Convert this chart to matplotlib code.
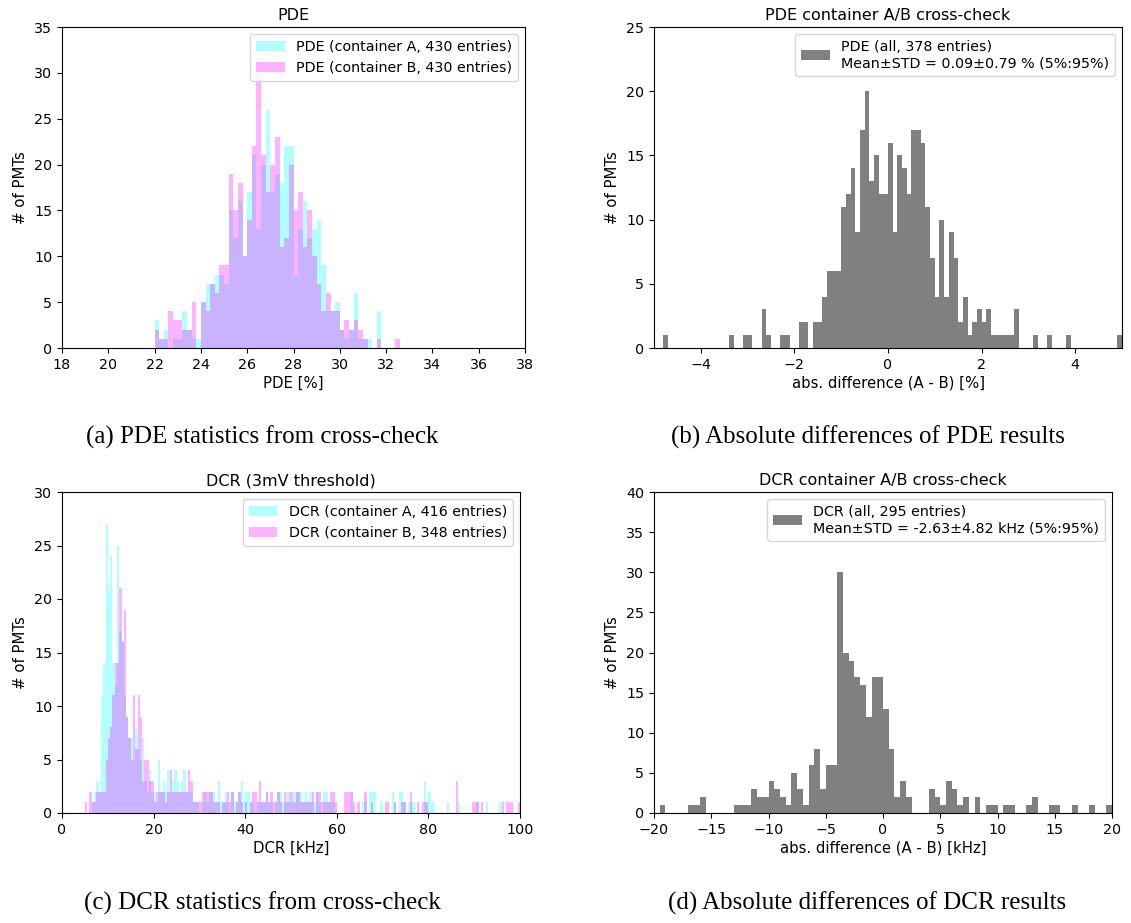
import numpy as np
import matplotlib
matplotlib.use("Agg")
import matplotlib.pyplot as plt

# ---------------- data ----------------
# (a) PDE histograms, bins of 0.2 % starting at 22 %
pde_bin_start = 22.0
pde_bin_width = 0.2
pde_a_counts = [3, 1, 2, 0, 1, 1, 4, 2, 1, 1,
                5, 7, 7, 8, 8, 7, 15, 12, 16, 10,
                17, 21, 13, 20, 26, 17, 19, 18, 22, 22,
                8, 13, 16, 12, 13, 14, 9, 4, 4, 5,
                2, 1, 2, 6, 1, 1, 1, 0, 4, 0,
                0, 0, 0]
pde_b_counts = [2, 1, 1, 4, 3, 3, 2, 2, 5, 0,
                5, 4, 7, 6, 9, 9, 19, 15, 18, 10,
                14, 22, 30, 21, 17, 20, 23, 11, 12, 20,
                15, 17, 11, 15, 10, 7, 4, 6, 4, 4,
                2, 3, 2, 3, 2, 1, 0, 0, 1, 0,
                0, 0, 1]
pde_a_label = "PDE (container A, 430 entries)"
pde_b_label = "PDE (container B, 430 entries)"

# (b) PDE A-B differences, bins of 0.1 % from -5 to 5
pdediff_bin_start = -5.0
pdediff_bin_width = 0.1
pdediff_counts = [0, 0, 1, 0, 0, 0, 0, 0, 0, 0,
                  0, 0, 0, 0, 0, 0, 1, 0, 0, 1,
                  1, 0, 0, 3, 1, 0, 0, 1, 1, 0,
                  0, 2, 2, 0, 2, 2, 4, 6, 6, 6,
                  11, 12, 14, 9, 17, 20, 13, 15, 12, 12,
                  16, 9, 15, 14, 12, 17, 17, 16, 11, 7,
                  4, 10, 4, 9, 7, 2, 4, 1, 2, 3,
                  2, 3, 1, 1, 1, 1, 1, 3, 0, 0,
                  0, 1, 0, 0, 1, 0, 0, 0, 1, 0,
                  0, 0, 0, 0, 0, 0, 0, 0, 0, 1]
pdediff_label = "PDE (all, 378 entries)\nMean\u00b1STD = 0.09\u00b10.79 % (5%:95%)"

# (c) DCR histograms, bins of 0.5 kHz from 0 to 100
dcr_bin_start = 0.0
dcr_bin_width = 0.5
dcr_a_counts = [0, 0, 0, 0, 0, 0, 0, 0, 0, 0,
                0, 0, 0, 1, 2, 3, 2, 11, 14, 27,
                21, 24, 14, 12, 25, 17, 16, 11, 9, 7,
                7, 5, 8, 6, 5, 7, 3, 2, 4, 2,
                2, 1, 5, 2, 3, 2, 4, 2, 3, 4,
                3, 2, 3, 4, 2, 2, 2, 1, 1, 1,
                0, 1, 2, 1, 2, 2, 2, 1, 3, 1,
                1, 2, 1, 0, 2, 1, 1, 2, 3, 1,
                2, 2, 1, 1, 0, 1, 1, 1, 1, 2,
                1, 1, 0, 1, 2, 2, 1, 1, 2, 1,
                1, 2, 2, 2, 2, 1, 2, 1, 2, 1,
                1, 2, 1, 0, 2, 2, 1, 1, 1, 0,
                0, 0, 0, 0, 0, 0, 2, 0, 0, 0,
                0, 1, 1, 0, 2, 2, 2, 0, 0, 1,
                0, 0, 0, 0, 2, 1, 0, 2, 2, 1,
                0, 1, 1, 1, 0, 0, 0, 0, 3, 1,
                2, 1, 1, 0, 0, 0, 0, 0, 1, 0,
                0, 0, 0, 1, 0, 0, 0, 0, 0, 0,
                0, 1, 0, 0, 0, 1, 0, 0, 0, 0,
                0, 1, 0, 0, 0, 0, 0, 0, 0, 0]
dcr_b_counts = [0, 0, 0, 0, 0, 0, 0, 0, 0, 0,
                1, 0, 2, 1, 1, 2, 2, 2, 2, 5,
                7, 8, 11, 14, 14, 21, 16, 19, 9, 7,
                5, 11, 6, 11, 9, 3, 5, 5, 3, 3,
                1, 2, 2, 2, 2, 1, 2, 4, 2, 2,
                2, 2, 2, 2, 2, 4, 3, 1, 1, 1,
                1, 2, 2, 2, 2, 2, 1, 1, 1, 0,
                1, 1, 2, 1, 2, 0, 1, 2, 1, 0,
                1, 0, 1, 2, 2, 1, 3, 1, 1, 2,
                1, 2, 1, 1, 2, 1, 0, 2, 1, 2,
                2, 1, 2, 2, 1, 1, 1, 1, 1, 2,
                0, 2, 2, 1, 1, 1, 1, 2, 2, 1,
                0, 0, 0, 2, 2, 2, 2, 1, 0, 1,
                0, 0, 2, 0, 0, 1, 0, 0, 0, 0,
                0, 1, 1, 0, 0, 1, 0, 0, 1, 1,
                0, 0, 2, 0, 0, 1, 0, 1, 1, 1,
                0, 0, 0, 0, 0, 0, 0, 0, 0, 0,
                0, 0, 3, 0, 0, 0, 0, 0, 0, 1,
                1, 1, 0, 1, 0, 0, 0, 0, 0, 0,
                0, 0, 1, 0, 1, 1, 1, 0, 0, 1]
dcr_a_label = "DCR (container A, 416 entries)"
dcr_b_label = "DCR (container B, 348 entries)"

# (d) DCR A-B differences, bins of 0.5 kHz from -20 to 20
dcrdiff_bin_start = -20.0
dcrdiff_bin_width = 0.5
dcrdiff_counts = [0, 1, 0, 0, 0, 0, 1, 1, 2, 0,
                  0, 0, 0, 0, 1, 1, 1, 3, 2, 2,
                  4, 3, 2, 1, 5, 3, 1, 6, 8, 3,
                  6, 6, 30, 20, 19, 17, 16, 12, 17, 17,
                  13, 8, 2, 4, 2, 0, 0, 0, 3, 2,
                  1, 4, 3, 1, 2, 0, 2, 0, 1, 1,
                  0, 1, 1, 0, 0, 1, 2, 0, 0, 1,
                  1, 0, 0, 1, 0, 0, 1, 0, 0, 1]
dcrdiff_label = "DCR (all, 295 entries)\nMean\u00b1STD = -2.63\u00b14.82 kHz (5%:95%)"

titles = ["PDE", "PDE container A/B cross-check",
          "DCR (3mV threshold)", "DCR container A/B cross-check"]
xlabels = ["PDE [%]", "abs. difference (A - B) [%]",
           "DCR [kHz]", "abs. difference (A - B) [kHz]"]
captions = ["(a) PDE statistics from cross-check",
            "(b) Absolute differences of PDE results",
            "(c) DCR statistics from cross-check",
            "(d) Absolute differences of DCR results"]


def edges(start, width, n):
    return start + width * np.arange(n + 1)


def hist_counts(ax, start, width, counts, **kw):
    e = edges(start, width, len(counts))
    ax.hist(e[:-1], bins=e, weights=counts, **kw)


# ---------------- figure ----------------
W, H = 1131, 923
fig = plt.figure(figsize=(W / 100, H / 100), dpi=100)


def px_axes(l, t, r, b):
    return fig.add_axes([l / W, 1 - b / H, (r - l) / W, (b - t) / H])


axa = px_axes(62, 27, 525, 348)
axb = px_axes(654, 27, 1122, 348)
axc = px_axes(62, 492, 520, 813)
axd = px_axes(654, 492, 1112, 813)

cyan = "cyan"
mag = "magenta"
al = 0.3

# (a)
hist_counts(axa, pde_bin_start, pde_bin_width, pde_a_counts, color=cyan, alpha=al, label=pde_a_label)
hist_counts(axa, pde_bin_start, pde_bin_width, pde_b_counts, color=mag, alpha=al, label=pde_b_label)
axa.set_xlim(18, 38)
axa.set_ylim(0, 35)
axa.set_xticks(np.arange(18, 39, 2))
axa.set_yticks(np.arange(0, 36, 5))

# (b)
hist_counts(axb, pdediff_bin_start, pdediff_bin_width, pdediff_counts, color="grey", label=pdediff_label)
axb.set_xlim(-5, 5)
axb.set_ylim(0, 25)
axb.set_xticks([-4, -2, 0, 2, 4])

# (c)
hist_counts(axc, dcr_bin_start, dcr_bin_width, dcr_a_counts, color=cyan, alpha=al, label=dcr_a_label)
hist_counts(axc, dcr_bin_start, dcr_bin_width, dcr_b_counts, color=mag, alpha=al, label=dcr_b_label)
axc.set_xlim(0, 100)
axc.set_ylim(0, 30)

# (d)
hist_counts(axd, dcrdiff_bin_start, dcrdiff_bin_width, dcrdiff_counts, color="grey", label=dcrdiff_label)
axd.set_xlim(-20, 20)
axd.set_ylim(0, 40)

for ax, t, xl in zip([axa, axb, axc, axd], titles, xlabels):
    ax.set_title(t, fontsize=11.5, pad=5)
    ax.set_xlabel(xl, fontsize=10.7, labelpad=3)
    ax.set_ylabel("# of PMTs", fontsize=10.7, labelpad=4)
    ax.legend(loc="upper right", fontsize=10.3)
    ax.tick_params(labelsize=10.3)

cap_font = dict(family="Liberation Serif", fontsize=18, ha="center", va="center")
fig.text(262 / W, 1 - 437 / H, captions[0], **cap_font)
fig.text(868 / W, 1 - 437 / H, captions[1], **cap_font)
fig.text(262 / W, 1 - 903 / H, captions[2], **cap_font)
fig.text(867 / W, 1 - 903 / H, captions[3], **cap_font)

fig.savefig("out.png", dpi=100)
